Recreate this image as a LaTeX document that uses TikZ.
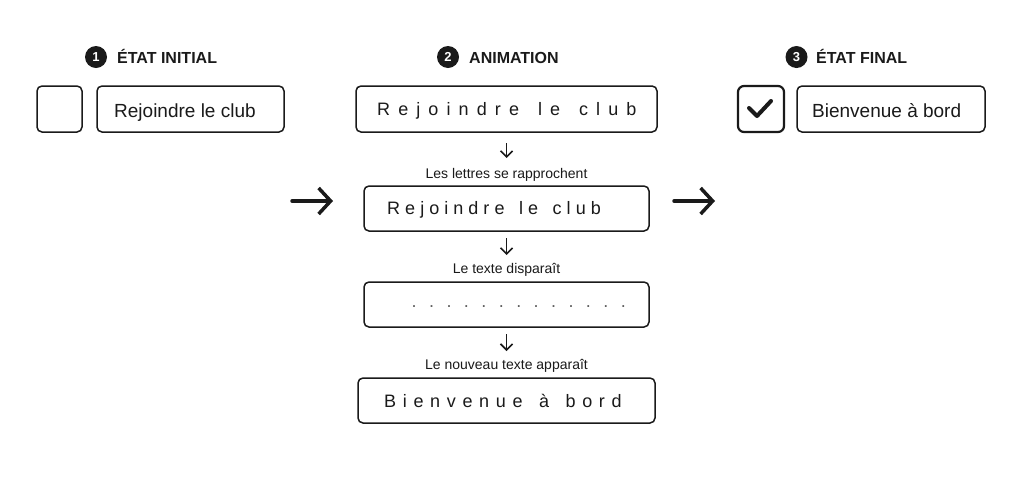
\documentclass[tikz,border=0pt]{standalone}
\usepackage{fontspec}
\setmainfont{Liberation Sans}
\newfontfamily\spacedA[LetterSpace=45,WordSpace=1.45]{Liberation Sans}
\newfontfamily\spacedB[LetterSpace=28,WordSpace=1.45]{Liberation Sans}
\newfontfamily\spacedC[LetterSpace=37,WordSpace=1.42]{Liberation Sans}
\newfontfamily\spacedD[LetterSpace=69]{Liberation Sans}
\usetikzlibrary{arrows.meta}
\definecolor{ink}{HTML}{1A1A1A}
\definecolor{dotgray}{HTML}{606060}
\begin{document}
\begin{tikzpicture}[x=1pt,y=-1pt,
  box/.style={draw=ink, line width=1.5pt, rounded corners=5pt, minimum height=46pt, anchor=north west, inner sep=0pt, outer sep=0pt},
  btntext/.style={font=\fontsize{19}{22}\selectfont, text=ink, anchor=base west, inner sep=0pt},
  anitext/.style={font=\fontsize{18}{21}\selectfont, text=ink, anchor=base west, inner sep=0pt},
  head/.style={font=\bfseries\fontsize{16}{19}\selectfont, text=ink, anchor=base west, inner sep=0pt},
  num/.style={circle, fill=ink, text=white, minimum size=22pt, inner sep=0pt, font=\bfseries\fontsize{13}{15}\selectfont},
  caption/.style={font=\fontsize{14}{16}\selectfont, text=ink, anchor=base, inner sep=0pt},
  darr/.style={-{Straight Barb[length=6pt,width=12pt]}, line width=1.6pt, draw=ink},
  bigarr/.style={-{Straight Barb[length=12pt,width=26pt]}, line width=3.5pt, line cap=round, draw=ink},
]
\path[use as bounding box, fill=white] (0,0) rectangle (1024,483);

% headers
\node[num] (n1) at (96,57) {1};
\node[head] (h1) at (117,63) {ÉTAT INITIAL};
\node[num] (n2) at (448,57) {2};
\node[head] (h2) at (469,63) {ANIMATION};
\node[num] (n3) at (796.5,57) {3};
\node[head] (h3) at (816,63) {ÉTAT FINAL};

% initial state
\node[box, minimum width=45pt] (cb1) at (37,86) {};
\node[box, minimum width=187pt] (btn1) at (97,86) {};
\node[btntext] (t1) at (114,117) {Rejoindre le club};

% final state
\node[box, line width=2.2pt, rounded corners=6pt, minimum width=46pt] (cb2) at (738,86) {};
\draw[ink, line width=4pt, line cap=round, line join=round] (749,108) -- (757,116) -- (771,101);
\node[box, minimum width=188pt] (btn2) at (797,86) {};
\node[btntext] (t2) at (812,117) {Bienvenue à bord};

% animation column
\node[box, minimum width=301pt] (a1) at (356,86) {};
\node[anitext] (at1) at (377,115) {\spacedA Rejoindre le club};

\node[caption] (c1) at (506.5,178) {Les lettres se rapprochent};
\node[box, minimum width=285pt, minimum height=45pt] (a2) at (364,186) {};
\node[anitext] (at2) at (387,214) {\spacedB Rejoindre le club};

\node[caption] (c2) at (506.5,273) {Le texte disparaît};
\node[box, minimum width=285pt, minimum height=45pt] (a3) at (364,282) {};
\node[anitext, text=dotgray] (at3) at (411.5,307) {\spacedD .............};

\node[caption] (c3) at (506.5,369) {Le nouveau texte apparaît};
\node[box, minimum width=297pt, minimum height=45pt] (a4) at (358,378) {};
\node[anitext] (at4) at (384,407) {\spacedC Bienvenue à bord};

% down arrows
\draw[darr, shorten <=11pt, shorten >=28pt] (a1.south) -- (a2.north);
\draw[darr, shorten <=7pt, shorten >=27pt] (a2.south) -- (a3.north);
\draw[darr, shorten <=7pt, shorten >=27pt] (a3.south) -- (a4.north);

% big arrows
\coordinate (l1) at (292,201);
\coordinate (l2) at (333,201);
\coordinate (r1) at (674,201);
\coordinate (r2) at (715,201);
\draw[bigarr] (l1) -- (l2);
\draw[bigarr] (r1) -- (r2);
\end{tikzpicture}
\end{document}
